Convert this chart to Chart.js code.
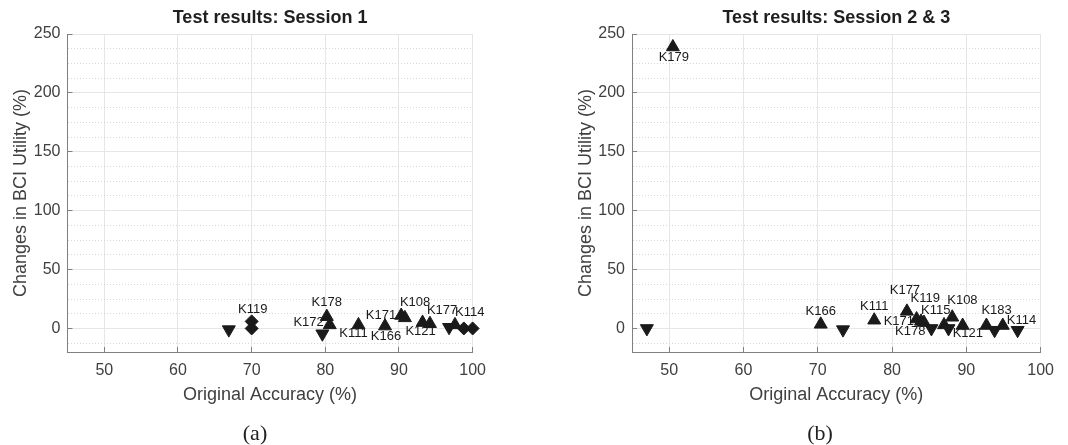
<!DOCTYPE html>
<html>
<head>
<meta charset="utf-8">
<script src="https://cdn.jsdelivr.net/npm/chart.js@4.4.1/dist/chart.umd.min.js"></script>
<style>
  html, body { margin: 0; padding: 0; background: #fff; }
  #fig { position: relative; width: 1068px; height: 445px; overflow: hidden; }
  .panel { position: absolute; top: 0; height: 445px; }
  #p1 { left: 0; width: 500px; }
  #p2 { left: 560px; width: 508px; }
  .cap { position: absolute; top: 420px; line-height: 24px; font: 22px "Liberation Serif", "DejaVu Serif", serif; color: #222; transform: translateX(-50%); }
</style>
</head>
<body>
<div id="fig">
  <div class="panel" id="p1"><canvas id="c1"></canvas></div>
  <div class="panel" id="p2"><canvas id="c2"></canvas></div>
  <div class="cap" style="left:255px">(a)</div>
  <div class="cap" style="left:820px">(b)</div>
</div>
<script>
// Session 1
const s1Accuracy = [66.9, 70.0, 70.0, 79.6, 80.2, 80.6, 84.5, 88.1, 90.3, 90.8, 93.2, 94.2, 96.8, 97.6, 98.8, 100.0];
const s1Change   = [-1, 0, 6, -4.5, 10, 3, 3, 2, 11, 9, 5, 4, 1, 3, 0, 0];
const s1Marker   = ['down', 'diamond', 'diamond', 'down', 'up', 'up', 'up', 'up', 'up', 'up', 'up', 'up', 'down', 'up', 'diamond', 'diamond'];
const s1Subject  = ['', '', 'K119', '', 'K178', 'K172', 'K111', 'K166', 'K171', 'K108', 'K121', 'K177', '', 'K114', '', ''];

// Session 2 & 3
const s2Accuracy = [47.0, 50.5, 70.4, 73.4, 77.6, 82.0, 83.3, 83.9, 84.3, 85.3, 87.0, 87.6, 88.1, 89.5, 92.7, 93.8, 94.9, 96.9];
const s2Change   = [0, 239, 3.5, -1, 7, 14.5, 8, 6, 5, 0, 3, 0, 9.5, 2.5, 2.5, -1.5, 2.5, -1.5];
const s2Marker   = ['down', 'up', 'up', 'down', 'up', 'up', 'up', 'up', 'up', 'down', 'up', 'down', 'up', 'up', 'up', 'down', 'up', 'down'];
const s2Subject  = ['', 'K179', 'K166', '', 'K111', 'K177', 'K119', 'K171', 'K115', 'K178', '', '', 'K108', 'K121', 'K183', '', 'K114', ''];

const xTicks = [50, 60, 70, 80, 90, 100];
const yTicks = [-12.5, 0, 12.5, 25, 37.5, 50, 62.5, 75, 87.5, 100, 112.5, 125, 137.5, 150, 162.5, 175, 187.5, 200, 212.5, 225, 237.5, 250];
const yLabelled = [0, 50, 100, 150, 200, 250];

// where each subject name sits next to its marker: [align, dx, dy]
const place1 = {
  K119: ['center', 1, -12], K178: ['center', 0, -14], K172: ['right', -6, -2],
  K111: ['center', -5, 9], K166: ['center', 1, 10], K171: ['right', -5, 0],
  K108: ['left', -5, -15], K121: ['center', -2, 9], K177: ['left', -3, -13],
  K114: ['left', 0, -12]
};
const place2 = {
  K179: ['center', 1, 10], K166: ['center', 0, -12.5], K111: ['center', 0, -13.5],
  K177: ['center', -2, -21], K119: ['left', -6, -21], K171: ['right', -7, 0],
  K115: ['left', -3, -12.5], K178: ['right', -6, 3], K108: ['left', -5, -17],
  K121: ['left', -10, 8], K183: ['left', -5, -15], K114: ['left', 4, -5]
};

const FONT = '"Liberation Sans", Arial, Helvetica, sans-serif';
Chart.defaults.font.family = FONT;

const figText = {
  id: 'figText',
  afterDatasetsDraw(chart, args, opts) {
    const { ctx, chartArea: a } = chart;
    const pts = chart.getDatasetMeta(0).data;
    ctx.save();
    ctx.textBaseline = 'middle';
    ctx.font = '13px ' + FONT;
    ctx.fillStyle = '#1a1a1a';
    opts.subjects.forEach((name, i) => {
      if (!name) return;
      const [align, dx, dy] = opts.place[name];
      ctx.textAlign = align;
      ctx.fillText(name, pts[i].x + dx, pts[i].y + dy);
    });
    const cx = (a.left + a.right) / 2;
    ctx.textAlign = 'center';
    ctx.font = 'bold 18px ' + FONT;
    ctx.fillStyle = '#1f1f1f';
    ctx.fillText(opts.title, cx, a.top - 16);
    ctx.font = '18px ' + FONT;
    ctx.fillStyle = '#404040';
    ctx.fillText('Original Accuracy (%)', cx, a.bottom + 43);
    ctx.translate(a.left - 46, (a.top + a.bottom) / 2);
    ctx.rotate(-Math.PI / 2);
    ctx.fillText('Changes in BCI Utility (%)', 0, 0);
    ctx.restore();
  }
};

const isMajor = (c) => c.tick && yLabelled.includes(c.tick.value);

function panel(id, acc, change, marker, subjects, title, place, yWidth, rightPad) {
  return new Chart(document.getElementById(id), {
    type: 'scatter',
    data: {
      datasets: [{
        data: acc.map((x, i) => ({ x, y: change[i] })),
        pointStyle: marker.map(m => m === 'diamond' ? 'rectRot' : 'triangle'),
        rotation: marker.map(m => m === 'down' ? 180 : 0),
        pointRadius: marker.map(m => m === 'diamond' ? 6.5 : 7.5),
        backgroundColor: '#1a1a1a',
        borderColor: '#1a1a1a',
        borderWidth: 1,
        clip: false
      }]
    },
    options: {
      responsive: true,
      maintainAspectRatio: false,
      animation: false,
      devicePixelRatio: 1,
      events: [],
      layout: { padding: { top: 34, left: 0, right: rightPad, bottom: 0 } },
      plugins: {
        legend: { display: false },
        tooltip: { enabled: false },
        figText: { title, subjects, place }
      },
      scales: {
        x: {
          type: 'linear', min: 45, max: 100,
          afterBuildTicks: s => { s.ticks = xTicks.map(v => ({ value: v })); },
          afterFit: s => { s.height = 93; },
          grid: { color: '#e6e6e6', tickLength: -5, tickColor: '#808080' },
          border: { color: '#808080', width: 1 },
          ticks: { padding: 14, color: '#404040', font: { size: 16 }, maxRotation: 0, autoSkip: false }
        },
        y: {
          type: 'linear', min: -20, max: 250,
          afterBuildTicks: s => { s.ticks = yTicks.map(v => ({ value: v })); },
          afterFit: s => { s.width = yWidth; },
          grid: {
            color: c => isMajor(c) ? '#e6e6e6' : '#d6d6d6',
            tickLength: -5,
            tickColor: c => isMajor(c) ? '#808080' : 'rgba(0,0,0,0)'
          },
          border: { color: '#808080', width: 1, dash: c => (c.tick && !isMajor(c)) ? [1, 2] : [] },
          ticks: {
            padding: 12, color: '#404040', font: { size: 16 }, autoSkip: false,
            callback: v => yLabelled.includes(v) ? String(v) : ''
          }
        }
      }
    },
    plugins: [figText]
  });
}

panel('c1', s1Accuracy, s1Change, s1Marker, s1Subject, 'Test results: Session 1', place1, 67.5, 20);
panel('c2', s2Accuracy, s2Change, s2Marker, s2Subject, 'Test results: Session 2 & 3', place2, 72, 22);
</script>
</body>
</html>
